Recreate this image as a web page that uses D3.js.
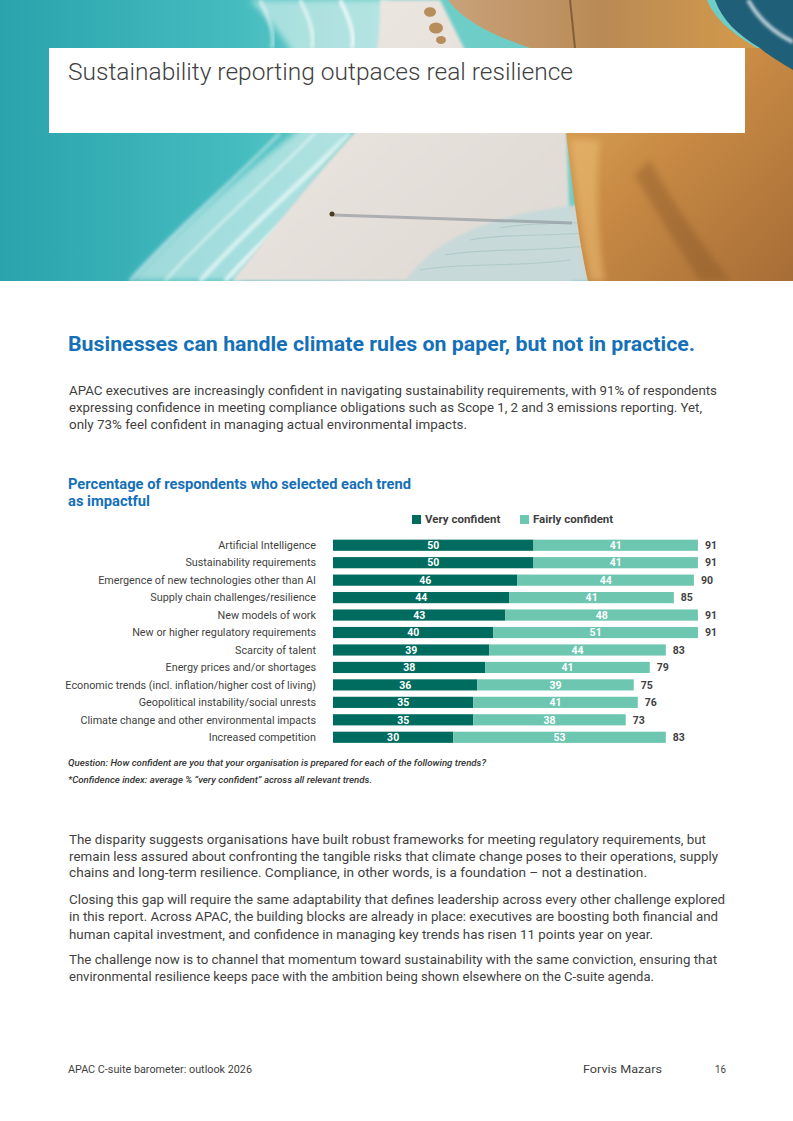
<!DOCTYPE html>
<html lang="en">
<head>
<meta charset="UTF-8">
<title>Sustainability reporting outpaces real resilience</title>
<script src="https://d3js.org/d3.v7.min.js"></script>
<style>
    body { margin: 0; background: #fff; }
    svg { display: block; }
    .txt { font-family: "Roboto", "Noto Sans", sans-serif; }
</style>
</head>
<body>
<div id="page"></div>
<script>
    // chart data
    const categories = [
        "Artificial Intelligence",
        "Sustainability requirements",
        "Emergence of new technologies other than AI",
        "Supply chain challenges/resilience",
        "New models of work",
        "New or higher regulatory requirements",
        "Scarcity of talent",
        "Energy prices and/or shortages",
        "Economic trends (incl. inflation/higher cost of living)",
        "Geopolitical instability/social unrests",
        "Climate change and other environmental impacts",
        "Increased competition"
    ];
    const veryConfident = [50, 50, 46, 44, 43, 40, 39, 38, 36, 35, 35, 30];
    const fairlyConfident = [41, 41, 44, 41, 48, 51, 44, 41, 39, 41, 38, 53];
    const totals = [91, 91, 90, 85, 91, 91, 83, 79, 75, 76, 73, 83];
    const seriesNames = ["Very confident", "Fairly confident"];

    const W = 793, H = 1121;
    const darkTeal = "#006c5f", lightTeal = "#6cc6b0";
    const blue = "#1570b8", grey = "#3f3f3f";

    const svg = d3.select("#page").append("svg")
        .attr("width", W).attr("height", H);

    // ---- header photo, a rough painted version ----
    const defs = svg.append("defs");
    function grad(id, x2, y2, stops) {
        const g = defs.append("linearGradient").attr("id", id)
            .attr("x1", 0).attr("y1", 0).attr("x2", x2).attr("y2", y2);
        stops.forEach(s => g.append("stop").attr("offset", s[0]).attr("stop-color", s[1]));
    }
    grad("sea", 1, 0, [[0, "#2aa3ac"], [0.3, "#45bcbf"], [0.5, "#6fcdc8"]]);
    grad("sand", 1, 1, [[0, "#efe9e4"], [1, "#ddd8d3"]]);
    grad("rock", 1, 1, [[0, "#e0aa5c"], [0.45, "#c88a44"], [1, "#a66d36"]]);
    grad("rockTop", 1, 0, [[0, "#c9a27a"], [0.5, "#b98a55"], [1, "#d49a4a"]]);
    defs.append("filter").attr("id", "blur")
        .append("feGaussianBlur").attr("stdDeviation", 3);
    defs.append("filter").attr("id", "blur2")
        .append("feGaussianBlur").attr("stdDeviation", 1.5);
    defs.append("clipPath").attr("id", "photoClip")
        .append("rect").attr("width", W).attr("height", 281);

    const photo = svg.append("g").attr("clip-path", "url(#photoClip)");
    photo.append("rect").attr("width", W).attr("height", 281).attr("fill", "url(#sea)");

    // foam band along the beach
    photo.append("path").attr("fill", "#e4f5f3").attr("opacity", 0.6).attr("filter", "url(#blur)")
        .attr("d", "M130,281 C175,230 235,180 295,133 C325,100 300,50 250,0 L390,0 L385,60 C370,110 330,160 300,200 C270,240 250,260 240,281 Z");
    [[130, 0.35, 4], [165, 0.45, 3], [200, 0.55, 5], [225, 0.7, 4]].forEach(f => {
        photo.append("path").attr("fill", "none").attr("stroke", "#ffffff")
            .attr("stroke-width", f[2]).attr("stroke-opacity", f[1]).attr("filter", "url(#blur2)")
            .attr("d", `M${f[0]},281 C${f[0] + 50},225 ${f[0] + 110},175 ${f[0] + 150},133`);
    });
    [[270, 0.45], [310, 0.55], [350, 0.7]].forEach(f => {
        photo.append("path").attr("fill", "none").attr("stroke", "#ffffff")
            .attr("stroke-width", 4).attr("stroke-opacity", f[1]).attr("filter", "url(#blur2)")
            .attr("d", `M${f[0] - 10},0 C${f[0]},20 ${f[0] + 5},35 ${f[0] + 2},48`);
    });

    // beach
    photo.append("path").attr("fill", "url(#sand)").attr("filter", "url(#blur2)")
        .attr("d", "M380,0 L440,0 L470,60 L566,120 L572,281 L232,281 C265,240 310,180 354,133 C372,100 380,50 380,0 Z");
    // shallow water over the sand
    photo.append("path").attr("fill", "#c8d9d9").attr("filter", "url(#blur2)")
        .attr("d", "M405,281 C430,245 480,215 578,205 L590,281 Z");
    [[420, 270], [445, 255], [470, 240], [500, 228]].forEach(r => {
        photo.append("path").attr("fill", "none").attr("stroke", "#a5c3c6").attr("stroke-width", 1.2)
            .attr("opacity", 0.7)
            .attr("d", `M${r[0]},${r[1]} C${r[0] + 40},${r[1] - 8} ${r[0] + 90},${r[1] - 2} ${r[0] + 150},${r[1] - 10}`);
    });
    // boulders at top of beach
    [[430, 12, 6], [436, 28, 7], [441, 40, 5]].forEach(b => {
        photo.append("ellipse").attr("cx", b[0]).attr("cy", b[1]).attr("rx", b[2]).attr("ry", b[2] * 0.8)
            .attr("fill", "#b88d5c");
    });

    // rocks
    photo.append("path").attr("fill", "url(#rockTop)")
        .attr("d", "M448,0 L707,0 C715,20 735,35 757,48 L566,60 C520,45 470,30 448,0 Z");
    photo.append("path").attr("fill", "url(#rock)")
        .attr("d", "M560,48 L793,48 L793,281 L588,281 C578,240 572,180 566,133 C565,100 562,70 560,48 Z");
    photo.append("path").attr("fill", "#7d4f26").attr("opacity", 0.35).attr("filter", "url(#blur)")
        .attr("d", "M650,160 C670,200 700,240 730,281 L700,281 C680,250 655,210 635,175 Z");
    photo.append("path").attr("fill", "#f0c27a").attr("opacity", 0.5).attr("filter", "url(#blur)")
        .attr("d", "M570,140 L600,140 C595,190 598,240 605,281 L590,281 C580,230 575,180 570,140 Z");
    photo.append("line").attr("x1", 570).attr("y1", 0).attr("x2", 575).attr("y2", 48)
        .attr("stroke", "#6e4a2a").attr("stroke-width", 2).attr("opacity", 0.7);

    // deep water top right
    photo.append("path").attr("fill", "#1f5f77")
        .attr("d", "M715,0 L793,0 L793,70 C780,62 768,55 760,48 C738,35 722,20 715,0 Z");
    photo.append("path").attr("fill", "none").attr("stroke", "#ffffff").attr("stroke-width", 4)
        .attr("stroke-opacity", 0.7).attr("filter", "url(#blur2)")
        .attr("d", "M748,0 C758,18 772,32 793,42");

    // walker and shadow
    photo.append("line").attr("x1", 333).attr("y1", 215).attr("x2", 572).attr("y2", 223)
        .attr("stroke", "#8f969c").attr("stroke-width", 3).attr("opacity", 0.65);
    photo.append("circle").attr("cx", 332).attr("cy", 214).attr("r", 2.5).attr("fill", "#4b3a20");

    // title card
    svg.append("rect").attr("x", 49).attr("y", 48).attr("width", 696).attr("height", 85).attr("fill", "#fff");
    svg.append("text").attr("class", "txt").attr("x", 68).attr("y", 80)
        .attr("font-size", 23).attr("font-weight", 300).attr("fill", grey)
        .attr("textLength", 505).attr("lengthAdjust", "spacingAndGlyphs")
        .text("Sustainability reporting outpaces real resilience");

    // ---- headings and body text ----
    function lines(arr, x, y0, step, opts) {
        arr.forEach((l, i) => {
            const t = svg.append("text").attr("class", "txt").attr("x", x).attr("y", y0 + i * step)
                .attr("font-size", opts.size).attr("fill", opts.color || grey)
                .attr("font-weight", opts.weight || "normal")
                .attr("font-style", opts.style || "normal")
                .text(l[0]);
            if (l[1]) t.attr("textLength", l[1]).attr("lengthAdjust", "spacingAndGlyphs");
        });
    }

    lines([["Businesses can handle climate rules on paper, but not in practice.", 627]], 68, 351, 0,
        { size: 21, weight: "bold", color: blue });

    lines([
        ["APAC executives are increasingly confident in navigating sustainability requirements, with 91% of respondents", 648],
        ["expressing confidence in meeting compliance obligations such as Scope 1, 2 and 3 emissions reporting. Yet,", 633],
        ["only 73% feel confident in managing actual environmental impacts.", 398]
    ], 69, 395, 17, { size: 13 });

    lines([
        ["Percentage of respondents who selected each trend", 343],
        ["as impactful", 82]
    ], 68, 489, 17, { size: 14, weight: "bold", color: blue });

    // ---- bar chart ----
    const x = d3.scaleLinear().domain([0, 100]).range([333, 734]);
    const y = d3.scaleBand().domain(categories).range([536.5, 746]).paddingInner(0.36).paddingOuter(0.18);
    const colour = d3.scaleOrdinal().domain(seriesNames).range([darkTeal, lightTeal]);

    const rows = categories.map((c, i) => ({
        cat: c, very: veryConfident[i], fairly: fairlyConfident[i], total: totals[i]
    }));

    const chart = svg.append("g").attr("class", "chart");

    chart.selectAll(".label").data(rows).enter().append("text")
        .attr("class", "label txt")
        .attr("x", 316)
        .attr("y", d => y(d.cat) + y.bandwidth() / 2)
        .attr("dy", "0.35em")
        .attr("text-anchor", "end")
        .attr("font-size", 10.8)
        .attr("fill", grey)
        .text(d => d.cat);

    const row = chart.selectAll(".row").data(rows).enter().append("g").attr("class", "row");

    row.append("rect")
        .attr("x", x(0))
        .attr("y", d => y(d.cat))
        .attr("width", d => x(d.very) - x(0))
        .attr("height", y.bandwidth())
        .attr("fill", colour(seriesNames[0]));
    row.append("rect")
        .attr("x", d => x(d.very))
        .attr("y", d => y(d.cat))
        .attr("width", d => x(d.very + d.fairly) - x(d.very))
        .attr("height", y.bandwidth())
        .attr("fill", colour(seriesNames[1]));

    row.append("text").attr("class", "txt")
        .attr("x", d => (x(0) + x(d.very)) / 2)
        .attr("y", d => y(d.cat) + y.bandwidth() / 2)
        .attr("dy", "0.36em").attr("text-anchor", "middle")
        .attr("font-size", 10.5).attr("font-weight", "bold").attr("fill", "#fff")
        .text(d => d.very);
    row.append("text").attr("class", "txt")
        .attr("x", d => (x(d.very) + x(d.very + d.fairly)) / 2)
        .attr("y", d => y(d.cat) + y.bandwidth() / 2)
        .attr("dy", "0.36em").attr("text-anchor", "middle")
        .attr("font-size", 10.5).attr("font-weight", "bold").attr("fill", "#fff")
        .text(d => d.fairly);
    row.append("text").attr("class", "txt")
        .attr("x", d => x(d.very + d.fairly) + 7)
        .attr("y", d => y(d.cat) + y.bandwidth() / 2)
        .attr("dy", "0.36em")
        .attr("font-size", 10.5).attr("font-weight", "bold").attr("fill", grey)
        .text(d => d.total);

    // legend
    const legendX = [412, 520];
    const legend = chart.selectAll(".legend").data(seriesNames).enter().append("g")
        .attr("class", "legend")
        .attr("transform", (d, i) => `translate(${legendX[i]}, 515)`);
    legend.append("rect").attr("width", 9).attr("height", 9).attr("fill", d => colour(d));
    legend.append("text").attr("class", "txt").attr("x", 13).attr("y", 8)
        .attr("font-size", 11.5).attr("font-weight", "bold").attr("fill", grey)
        .text(d => d);

    // notes
    lines([
        ["Question: How confident are you that your organisation is prepared for each of the following trends?", 418],
        ["*Confidence index: average % \u201cvery confident\u201d across all relevant trends.", 304]
    ], 68, 766, 17, { size: 8.5, style: "italic", weight: 500, color: "#333" });

    lines([
        ["The disparity suggests organisations have built robust frameworks for meeting regulatory requirements, but", 637],
        ["remain less assured about confronting the tangible risks that climate change poses to their operations, supply", 649],
        ["chains and long-term resilience. Compliance, in other words, is a foundation \u2013 not a destination.", 578]
    ], 69, 844, 16.7, { size: 13 });
    lines([
        ["Closing this gap will require the same adaptability that defines leadership across every other challenge explored", 656],
        ["in this report. Across APAC, the building blocks are already in place: executives are boosting both financial and", 649],
        ["human capital investment, and confidence in managing key trends has risen 11 points year on year.", 584]
    ], 69, 904, 17.3, { size: 13 });
    lines([
        ["The challenge now is to channel that momentum toward sustainability with the same conviction, ensuring that", 648],
        ["environmental resilience keeps pace with the ambition being shown elsewhere on the C-suite agenda.", 585]
    ], 69, 964, 17, { size: 13 });

    // footer
    lines([["APAC C-suite barometer: outlook 2026", 184]], 68, 1073, 0, { size: 10 });
    lines([["Forvis Mazars", 79]], 583, 1073, 0, { size: 10 });
    lines([["16", 11]], 715, 1073, 0, { size: 10 });
</script>
</body>
</html>
